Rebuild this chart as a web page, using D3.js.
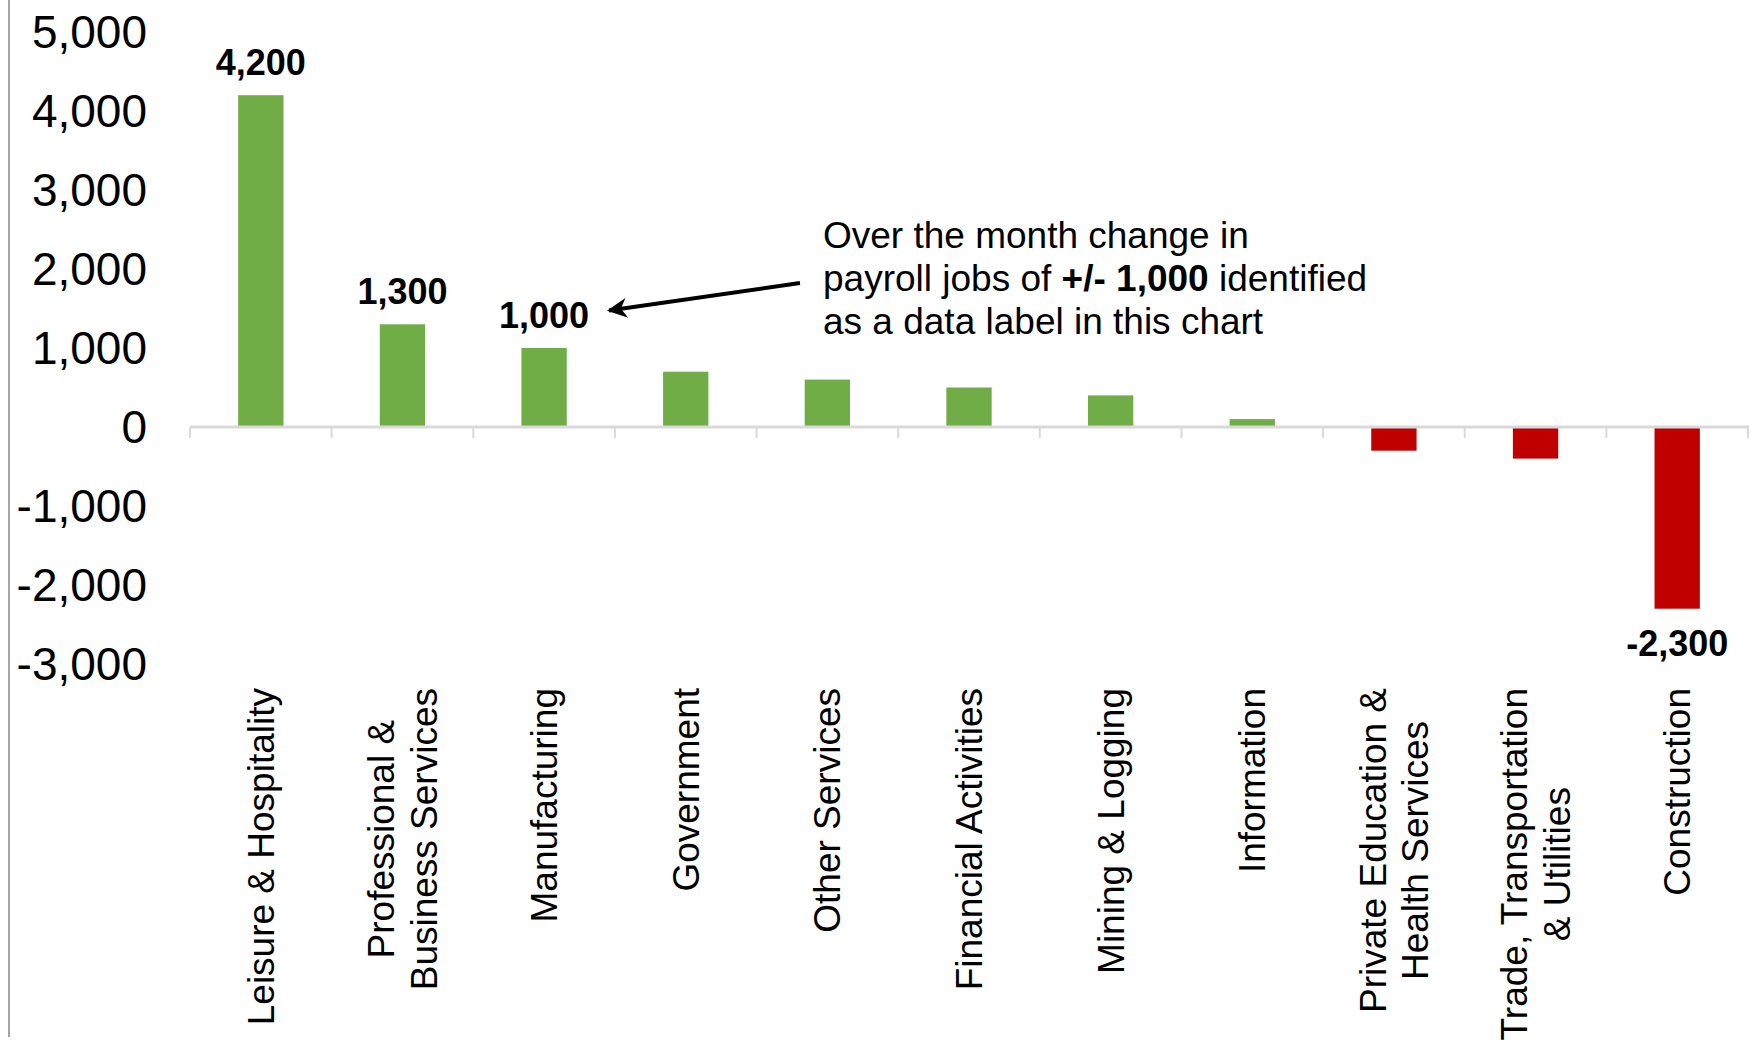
<!DOCTYPE html>
<html>
<head>
<meta charset="utf-8">
<script src="https://cdn.jsdelivr.net/npm/d3@7"></script>
<style>
  html, body { margin: 0; padding: 0; background: #fff; }
  svg { display: block; font-family: "Liberation Sans", Arial, sans-serif; }
</style>
</head>
<body>
<svg id="chart" width="1754" height="1046"></svg>
<script>
const categories = [
  ["Leisure & Hospitality"],
  ["Professional &", "Business Services"],
  ["Manufacturing"],
  ["Government"],
  ["Other Services"],
  ["Financial Activities"],
  ["Mining & Logging"],
  ["Information"],
  ["Private Education &", "Health Services"],
  ["Trade, Transportation", "& Utilities"],
  ["Construction"]
];
const values = [4200, 1300, 1000, 700, 600, 500, 400, 100, -300, -400, -2300];
const yTicks = [5000, 4000, 3000, 2000, 1000, 0, -1000, -2000, -3000];
const labelThreshold = 1000;
const noteLines = [
  [{t: "Over the month change in", b: false}],
  [{t: "payroll jobs of ", b: false}, {t: "+/- 1,000", b: true}, {t: " identified", b: false}],
  [{t: "as a data label in this chart", b: false}]
];

const svg = d3.select("#chart");
const keys = categories.map(c => c.join(" "));
const fmtRaw = d3.format(",");
const fmt = v => fmtRaw(v).replace("\u2212", "-");

const x = d3.scaleBand().domain(keys).range([190, 1748]).paddingInner(0.68).paddingOuter(0.34);
const y = d3.scaleLinear().domain([-3000, 5000]).range([664, 32]);
const step = x.step();

// left frame line
svg.append("line").attr("x1", 9).attr("x2", 9).attr("y1", 0).attr("y2", 1037)
  .attr("stroke", "#a6a6a6").attr("stroke-width", 2);

// y tick labels
svg.append("g").selectAll("text").data(yTicks).join("text")
  .attr("x", 147).attr("y", d => y(d)).attr("dy", "0.35em")
  .attr("text-anchor", "end").attr("font-size", 46).attr("fill", "#000")
  .text(d => fmt(d));

// bars
svg.append("g").selectAll("rect").data(values).join("rect")
  .attr("x", (d, i) => x(keys[i]))
  .attr("width", x.bandwidth())
  .attr("y", d => Math.min(y(d), y(0)))
  .attr("height", d => Math.abs(y(d) - y(0)))
  .attr("fill", d => d >= 0 ? "#70ad47" : "#c00000");

// zero axis line and ticks
const y0 = y(0);
svg.append("line").attr("x1", 190).attr("x2", 1749).attr("y1", y0).attr("y2", y0)
  .attr("stroke", "#d9d9d9").attr("stroke-width", 3);
const bounds = d3.range(keys.length + 1).map(i => 190 + i * step);
svg.append("g").selectAll("line").data(bounds).join("line")
  .attr("x1", d => d).attr("x2", d => d).attr("y1", y0).attr("y2", y0 + 11)
  .attr("stroke", "#d9d9d9").attr("stroke-width", 2);

// data labels
const labelled = values.map((v, i) => ({v, k: keys[i]})).filter(d => Math.abs(d.v) >= labelThreshold);
svg.append("g").selectAll("text").data(labelled).join("text")
  .attr("x", d => x(d.k) + x.bandwidth() / 2)
  .attr("y", d => d.v >= 0 ? y(d.v) - 20 : y(d.v) + 47)
  .attr("text-anchor", "middle").attr("font-size", 36).attr("font-weight", "bold")
  .attr("fill", "#000")
  .text(d => fmt(d.v));

// category labels (rotated)
const lineH = 42.5;
const catG = svg.append("g").attr("font-size", 37).attr("fill", "#000");
categories.forEach((lines, i) => {
  const cx = x(keys[i]) + x.bandwidth() / 2;
  const g = catG.append("g").attr("transform", `translate(${cx},688) rotate(-90)`);
  const texts = lines.map(l => g.append("text").text(l));
  const widths = texts.map(t => t.node().getComputedTextLength());
  const maxW = d3.max(widths);
  const n = lines.length;
  texts.forEach((t, j) => {
    const off = (j - (n - 1) / 2) * lineH;
    t.attr("x", -maxW / 2).attr("y", off).attr("dy", "0.35em").attr("text-anchor", "middle");
  });
});

// annotation
const defs = svg.append("defs");
defs.append("marker").attr("id", "arrow").attr("viewBox", "0 0 10 10")
  .attr("refX", 9).attr("refY", 5).attr("markerWidth", 5.5).attr("markerHeight", 5)
  .attr("orient", "auto").attr("markerUnits", "strokeWidth")
  .append("path").attr("d", "M0,0 L10,5 L0,10 L3,5 Z").attr("fill", "#000");
svg.append("line").attr("x1", 800).attr("y1", 283).attr("x2", 609).attr("y2", 310.5)
  .attr("stroke", "#000").attr("stroke-width", 4).attr("marker-end", "url(#arrow)");

const note = svg.append("text").attr("font-size", 37).attr("fill", "#000");
noteLines.forEach((parts, i) => {
  parts.forEach((p, k) => {
    const sp = note.append("tspan").text(p.t).attr("font-weight", p.b ? "bold" : "normal");
    if (k === 0) sp.attr("x", 823).attr("y", 248 + i * 43);
  });
});
</script>
</body>
</html>
